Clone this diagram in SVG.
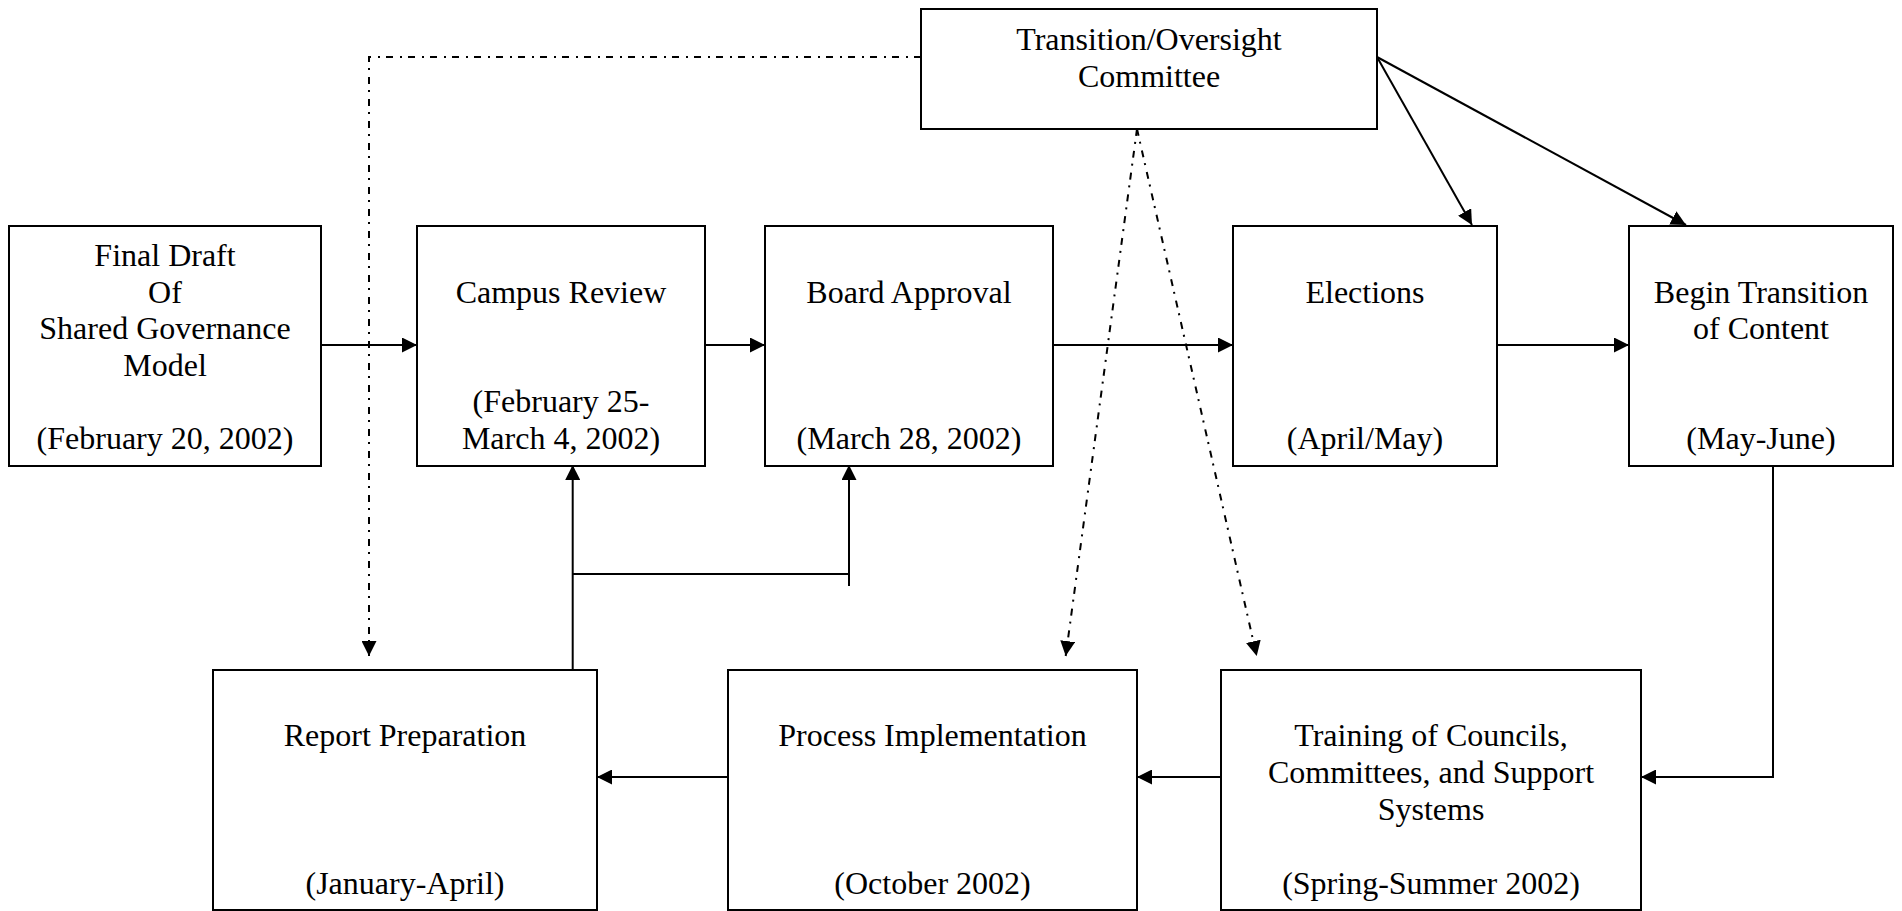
<svg xmlns="http://www.w3.org/2000/svg" width="1902" height="911" viewBox="0 0 1902 911">
<defs>
<style>
.box{fill:#fff;stroke:#000;stroke-width:2}
.t{font-family:"Liberation Serif","Times New Roman",serif;font-size:32px;fill:#000;text-anchor:middle}
.c{fill:none;stroke:#000;stroke-width:2}
.d{fill:none;stroke:#000;stroke-width:2;stroke-dasharray:7 6 2 7}
</style>
<marker id="ah" markerUnits="userSpaceOnUse" markerWidth="15" markerHeight="15" refX="15" refY="7.5" orient="auto" viewBox="0 0 15 15">
<path d="M0,0 L15,7.5 L0,15 z" fill="#000"/>
</marker>
</defs>
<rect width="1902" height="911" fill="#fff"/>
<g id="connectors">
<path class="d" d="M921,57 H369 V656" marker-end="url(#ah)"/>
<path class="d" d="M1137,129 L1065.7,656" marker-end="url(#ah)"/>
<path class="d" d="M1137,129 L1256.7,656" marker-end="url(#ah)"/>
<path class="c" d="M321,345 H417" marker-end="url(#ah)"/>
<path class="c" d="M705,345 H765" marker-end="url(#ah)"/>
<path class="c" d="M1053,345 H1233" marker-end="url(#ah)"/>
<path class="c" d="M1497,345 H1629" marker-end="url(#ah)"/>
<path class="c" d="M1377,57 L1472,225" marker-end="url(#ah)"/>
<path class="c" d="M1377,57 L1686,225" marker-end="url(#ah)"/>
<path class="c" d="M1773,465 V777 H1641" marker-end="url(#ah)"/>
<path class="c" d="M1221,777 H1137" marker-end="url(#ah)"/>
<path class="c" d="M728,777 H597" marker-end="url(#ah)"/>
<path class="c" d="M572.7,670 V465" marker-end="url(#ah)"/>
<path class="c" d="M572.7,574 H849"/>
<path class="c" d="M849,586 V465" marker-end="url(#ah)"/>
</g>
<g id="transition">
<rect class="box" x="921" y="9" width="456" height="120"/>
<text class="t" x="1149" y="50">Transition/Oversight</text>
<text class="t" x="1149" y="87">Committee</text>
</g>
<g id="final-draft">
<rect class="box" x="9" y="226" width="312" height="240"/>
<text class="t" x="165" y="266">Final Draft</text>
<text class="t" x="165" y="302.5">Of</text>
<text class="t" x="165" y="339">Shared Governance</text>
<text class="t" x="165" y="375.5">Model</text>
<text class="t" x="165" y="448.5">(February 20, 2002)</text>
</g>
<g id="campus-review">
<rect class="box" x="417" y="226" width="288" height="240"/>
<text class="t" x="561" y="302.5">Campus Review</text>
<text class="t" x="561" y="412">(February 25-</text>
<text class="t" x="561" y="448.5">March 4, 2002)</text>
</g>
<g id="board-approval">
<rect class="box" x="765" y="226" width="288" height="240"/>
<text class="t" x="909" y="302.5">Board Approval</text>
<text class="t" x="909" y="448.5">(March 28, 2002)</text>
</g>
<g id="elections">
<rect class="box" x="1233" y="226" width="264" height="240"/>
<text class="t" x="1365" y="302.5">Elections</text>
<text class="t" x="1365" y="448.5">(April/May)</text>
</g>
<g id="begin-transition">
<rect class="box" x="1629" y="226" width="264" height="240"/>
<text class="t" x="1761" y="302.5">Begin Transition</text>
<text class="t" x="1761" y="339">of Content</text>
<text class="t" x="1761" y="448.5">(May-June)</text>
</g>
<g id="report-preparation">
<rect class="box" x="213" y="670" width="384" height="240"/>
<text class="t" x="405" y="746">Report Preparation</text>
<text class="t" x="405" y="893.5">(January-April)</text>
</g>
<g id="process-implementation">
<rect class="box" x="728" y="670" width="409" height="240"/>
<text class="t" x="932.5" y="746">Process Implementation</text>
<text class="t" x="932.5" y="893.5">(October 2002)</text>
</g>
<g id="training">
<rect class="box" x="1221" y="670" width="420" height="240"/>
<text class="t" x="1431" y="746">Training of Councils,</text>
<text class="t" x="1431" y="783">Committees, and Support</text>
<text class="t" x="1431" y="820">Systems</text>
<text class="t" x="1431" y="893.5">(Spring-Summer 2002)</text>
</g>
</svg>
